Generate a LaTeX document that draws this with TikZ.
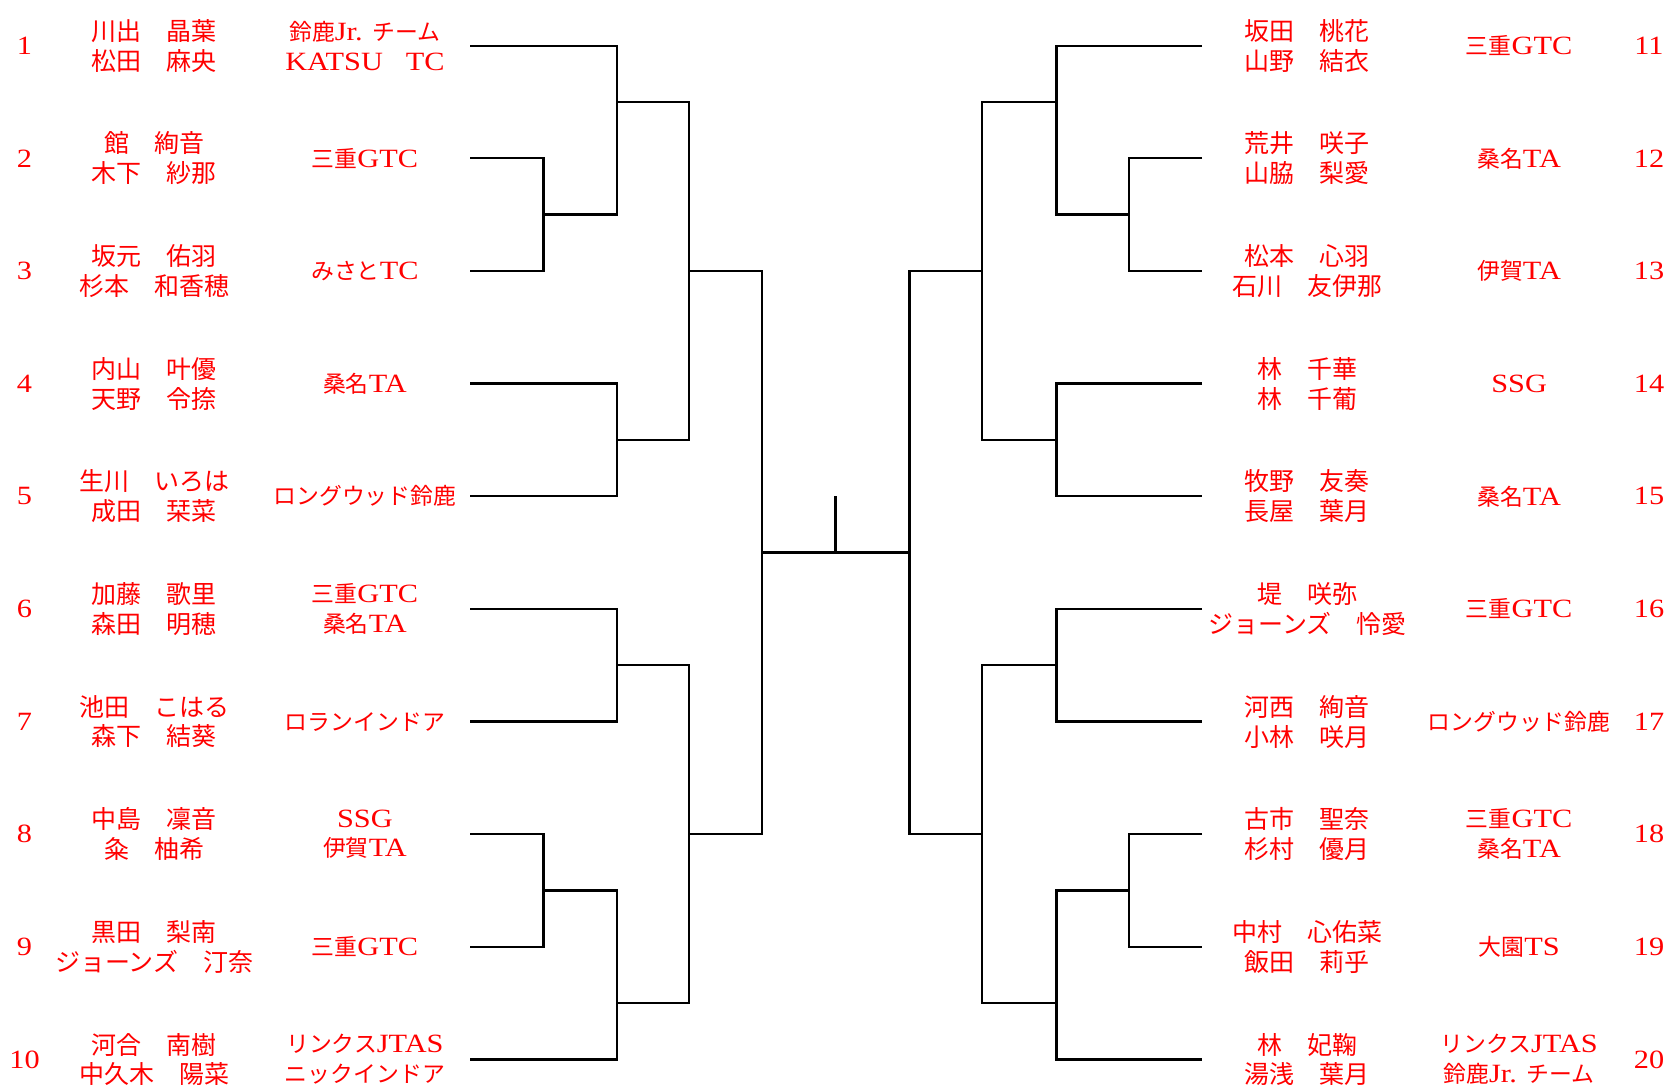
\documentclass[tikz,border=0pt]{standalone}
\usepackage{fontspec}
\setmainfont{Liberation Serif}[FakeStretch=1.15]
\newfontfamily\jp{Noto Sans CJK JP}[Scale=0.867]
\usepackage{xcolor}
\usepackage{tikz}
\usetikzlibrary{positioning}

\tikzset{
  pair/.style={text=red, font=\fontsize{16.4}{17}\selectfont\jp, align=center, inner sep=0pt},
  club/.style={text=red, font=\fontsize{15}{17}\selectfont, align=center, inner sep=0pt},
  seed/.style={text=red, font=\fontsize{15}{17}\selectfont, inner sep=0pt},
  brk/.style={line width=1.3pt},
}

\begin{document}
\begin{tikzpicture}[x=0.02cm, y=-0.02cm]
    \useasboundingbox (0,0) rectangle (1668,1086);

    % 左ブロック 1〜10
    \node[seed] (k1)  at (24.5,45.7)   {1};
    \node[seed] (k2)  at (24.5,158.3)  {2};
    \node[seed] (k3)  at (24.5,271.0)  {3};
    \node[seed] (k4)  at (24.5,383.6)  {4};
    \node[seed] (k5)  at (24.5,496.3)  {5};
    \node[seed] (k6)  at (24.5,608.9)  {6};
    \node[seed] (k7)  at (24.5,721.6)  {7};
    \node[seed] (k8)  at (24.5,834.2)  {8};
    \node[seed] (k9)  at (24.5,946.9)  {9};
    \node[seed] (k10) at (24.5,1059.5) {10};

    \node[pair] (p1)  at (154.3,45.7)   {川出　晶葉\\松田　麻央};
    \node[pair] (p2)  at (154.3,158.3)  {館　絢音\\木下　紗那};
    \node[pair] (p3)  at (154.3,271.0)  {坂元　佑羽\\杉本　和香穂};
    \node[pair] (p4)  at (154.3,383.6)  {内山　叶優\\天野　令捺};
    \node[pair] (p5)  at (154.3,496.3)  {生川　いろは\\成田　栞菜};
    \node[pair] (p6)  at (154.3,608.9)  {加藤　歌里\\森田　明穂};
    \node[pair] (p7)  at (154.3,721.6)  {池田　こはる\\森下　結葵};
    \node[pair] (p8)  at (154.3,834.2)  {中島　凜音\\粂　柚希};
    \node[pair] (p9)  at (154.3,946.9)  {黒田　梨南\\ジョーンズ　汀奈};
    \node[pair] (p10) at (154.3,1059.5) {河合　南樹\\中久木　陽菜};

    \node[club] (c1)  at (364.9,45.7)   {{\jp 鈴鹿}Jr. {\jp チーム}\\KATSU{\jp 　}TC};
    \node[club] (c2)  at (364.9,158.3)  {{\jp 三重}GTC};
    \node[club] (c3)  at (364.9,271.0)  {{\jp みさと}TC};
    \node[club] (c4)  at (364.9,383.6)  {{\jp 桑名}TA};
    \node[club] (c5)  at (364.9,496.3)  {{\jp ロングウッド鈴鹿}};
    \node[club] (c6)  at (364.9,608.9)  {{\jp 三重}GTC\\{\jp 桑名}TA};
    \node[club] (c7)  at (364.9,721.6)  {{\jp ロランインドア}};
    \node[club] (c8)  at (364.9,834.2)  {SSG\\{\jp 伊賀}TA};
    \node[club] (c9)  at (364.9,946.9)  {{\jp 三重}GTC};
    \node[club] (c10) at (364.9,1059.5) {{\jp リンクス}JTAS\\{\jp ニックインドア}};

    % 右ブロック 11〜20
    \node[pair] (p11) at (1307.4,45.7)   {坂田　桃花\\山野　結衣};
    \node[pair] (p12) at (1307.4,158.3)  {荒井　咲子\\山脇　梨愛};
    \node[pair] (p13) at (1307.4,271.0)  {松本　心羽\\石川　友伊那};
    \node[pair] (p14) at (1307.4,383.6)  {林　千華\\林　千葡};
    \node[pair] (p15) at (1307.4,496.3)  {牧野　友奏\\長屋　葉月};
    \node[pair] (p16) at (1307.4,608.9)  {堤　咲弥\\ジョーンズ　怜愛};
    \node[pair] (p17) at (1307.4,721.6)  {河西　絢音\\小林　咲月};
    \node[pair] (p18) at (1307.4,834.2)  {古市　聖奈\\杉村　優月};
    \node[pair] (p19) at (1307.4,946.9)  {中村　心佑菜\\飯田　莉乎};
    \node[pair] (p20) at (1307.4,1059.5) {林　妃鞠\\湯浅　葉月};

    \node[club] (c11) at (1519.1,45.7)   {{\jp 三重}GTC};
    \node[club] (c12) at (1519.1,158.3)  {{\jp 桑名}TA};
    \node[club] (c13) at (1519.1,271.0)  {{\jp 伊賀}TA};
    \node[club] (c14) at (1519.1,383.6)  {SSG};
    \node[club] (c15) at (1519.1,496.3)  {{\jp 桑名}TA};
    \node[club] (c16) at (1519.1,608.9)  {{\jp 三重}GTC};
    \node[club] (c17) at (1519.1,721.6)  {{\jp ロングウッド鈴鹿}};
    \node[club] (c18) at (1519.1,834.2)  {{\jp 三重}GTC\\{\jp 桑名}TA};
    \node[club] (c19) at (1519.1,946.9)  {{\jp 大園}TS};
    \node[club] (c20) at (1519.1,1059.5) {{\jp リンクス}JTAS\\{\jp 鈴鹿}Jr. {\jp チーム}};

    \node[seed] (k11) at (1649,45.7)   {11};
    \node[seed] (k12) at (1649,158.3)  {12};
    \node[seed] (k13) at (1649,271.0)  {13};
    \node[seed] (k14) at (1649,383.6)  {14};
    \node[seed] (k15) at (1649,496.3)  {15};
    \node[seed] (k16) at (1649,608.9)  {16};
    \node[seed] (k17) at (1649,721.6)  {17};
    \node[seed] (k18) at (1649,834.2)  {18};
    \node[seed] (k19) at (1649,946.9)  {19};
    \node[seed] (k20) at (1649,1059.5) {20};

    % 各枠の線の端
    \coordinate (s1)  at (470.2,45.7);
    \coordinate (s2)  at (470.2,158.3);
    \coordinate (s3)  at (470.2,271.0);
    \coordinate (s4)  at (470.2,383.6);
    \coordinate (s5)  at (470.2,496.3);
    \coordinate (s6)  at (470.2,608.9);
    \coordinate (s7)  at (470.2,721.6);
    \coordinate (s8)  at (470.2,834.2);
    \coordinate (s9)  at (470.2,946.9);
    \coordinate (s10) at (470.2,1059.5);
    \coordinate (s11) at (1202.1,45.7);
    \coordinate (s12) at (1202.1,158.3);
    \coordinate (s13) at (1202.1,271.0);
    \coordinate (s14) at (1202.1,383.6);
    \coordinate (s15) at (1202.1,496.3);
    \coordinate (s16) at (1202.1,608.9);
    \coordinate (s17) at (1202.1,721.6);
    \coordinate (s18) at (1202.1,834.2);
    \coordinate (s19) at (1202.1,946.9);
    \coordinate (s20) at (1202.1,1059.5);

    % 勝ち上がりの分岐点
    \coordinate (j23)     at (543.6,214.6);
    \coordinate (j123)    at (617.0,102.0);
    \coordinate (j45)     at (617.0,440.0);
    \coordinate (jTL)     at (689.3,271.0);
    \coordinate (j67)     at (617.0,665.2);
    \coordinate (j89)     at (543.6,890.5);
    \coordinate (j8910)   at (617.0,1003.2);
    \coordinate (jBL)     at (689.3,834.2);
    \coordinate (jL)      at (761.7,552.6);
    \coordinate (j1213)   at (1128.7,214.6);
    \coordinate (j111213) at (1056.4,102.0);
    \coordinate (j1415)   at (1056.4,440.0);
    \coordinate (jTR)     at (981.9,271.0);
    \coordinate (j1617)   at (1056.4,665.2);
    \coordinate (j1819)   at (1128.7,890.5);
    \coordinate (j181920) at (1056.4,1003.2);
    \coordinate (jBR)     at (981.9,834.2);
    \coordinate (jR)      at (909.6,552.6);
    \coordinate (fin)     at (835.6,552.6);
    \coordinate (win)     at (835.6,496.3);

    % 左のトーナメント線
    \draw[brk] (s2) -| (j23) |- (s3);
    \draw[brk] (s1) -| (j123) |- (j23);
    \draw[brk] (s4) -| (j45) |- (s5);
    \draw[brk] (j123) -| (jTL) |- (j45);
    \draw[brk] (s6) -| (j67) |- (s7);
    \draw[brk] (s8) -| (j89) |- (s9);
    \draw[brk] (j89) -| (j8910) |- (s10);
    \draw[brk] (j67) -| (jBL) |- (j8910);
    \draw[brk] (jTL) -| (jL) |- (jBL);

    % 右のトーナメント線
    \draw[brk] (s12) -| (j1213) |- (s13);
    \draw[brk] (s11) -| (j111213) |- (j1213);
    \draw[brk] (s14) -| (j1415) |- (s15);
    \draw[brk] (j111213) -| (jTR) |- (j1415);
    \draw[brk] (s16) -| (j1617) |- (s17);
    \draw[brk] (s18) -| (j1819) |- (s19);
    \draw[brk] (j1819) -| (j181920) |- (s20);
    \draw[brk] (j1617) -| (jBR) |- (j181920);
    \draw[brk] (jTR) -| (jR) |- (jBR);

    % 決勝
    \draw[brk] (jL) -- (jR);
    \draw[brk] (fin) -- (win);
\end{tikzpicture}
\end{document}
